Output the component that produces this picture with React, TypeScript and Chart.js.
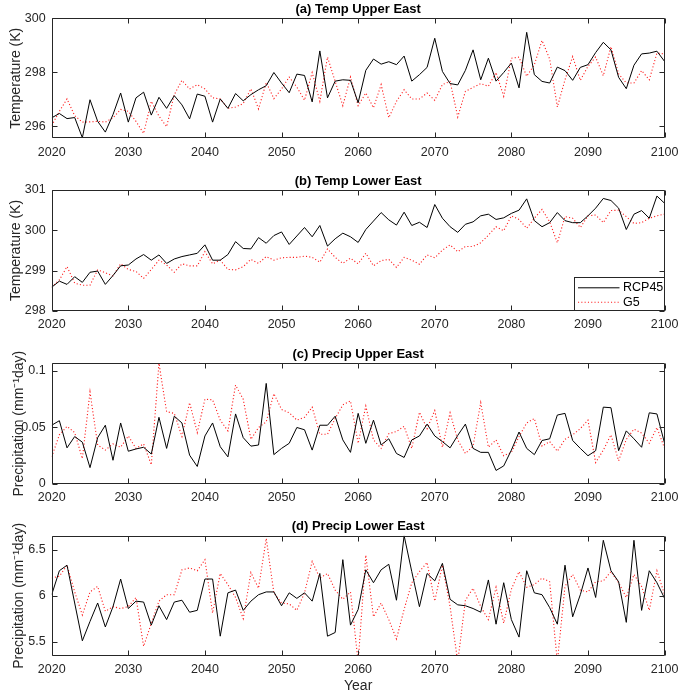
import { useEffect, useRef } from 'react';
import { Chart, registerables } from 'chart.js';

Chart.register(...registerables);

// ---------------- data ----------------
const years = [
  2020, 2021, 2022, 2023, 2024, 2025, 2026, 2027, 2028, 2029,
  2030, 2031, 2032, 2033, 2034, 2035, 2036, 2037, 2038, 2039,
  2040, 2041, 2042, 2043, 2044, 2045, 2046, 2047, 2048, 2049,
  2050, 2051, 2052, 2053, 2054, 2055, 2056, 2057, 2058, 2059,
  2060, 2061, 2062, 2063, 2064, 2065, 2066, 2067, 2068, 2069,
  2070, 2071, 2072, 2073, 2074, 2075, 2076, 2077, 2078, 2079,
  2080, 2081, 2082, 2083, 2084, 2085, 2086, 2087, 2088, 2089,
  2090, 2091, 2092, 2093, 2094, 2095, 2096, 2097, 2098, 2099, 2100,
];

const tempUpperRcp45 = [
  296.31, 296.47, 296.28, 296.32, 295.57, 296.98, 296.18, 295.78, 296.43, 297.23,
  296.15, 297.05, 297.26, 296.41, 297.07, 296.66, 297.13, 296.79, 296.27, 297.19,
  297.11, 296.15, 297.01, 296.66, 297.21, 296.94, 297.17, 297.35, 297.5, 297.99,
  297.6, 297.24, 297.93, 297.88, 296.9, 298.79, 297.05, 297.67, 297.72, 297.7,
  296.87, 298.07, 298.49, 298.3, 298.39, 298.28, 298.6, 297.67, 297.91, 298.18,
  299.26, 298.03, 297.58, 297.53, 298.07, 298.83, 297.72, 298.52, 297.67, 297.99,
  298.34, 297.42, 299.48, 297.91, 297.66, 297.6, 298.19, 298.06, 297.7, 298.18,
  298.28, 298.73, 299.11, 298.83, 297.81, 297.39, 298.26, 298.68, 298.71, 298.78, 298.4,
];
const tempUpperG5 = [
  296.02, 296.55, 297.01, 296.39, 296.15, 296.16, 296.18, 296.15, 296.31, 296.62,
  296.55, 296.18, 295.73, 296.92, 296.37, 295.98, 297.17, 297.7, 297.38, 297.54,
  297.38, 297.05, 297.01, 296.66, 296.71, 296.84, 297.38, 296.64, 297.62, 297.02,
  297.38, 297.82, 297.45, 296.96, 297.99, 296.92, 298.56, 297.66, 296.76, 297.82,
  296.76, 297.23, 296.68, 297.54, 296.31, 296.92, 297.35, 297.01, 297.01, 297.23,
  296.96, 297.54, 297.66, 296.34, 297.29, 297.44, 297.58, 297.48, 297.99, 297.11,
  298.52, 298.56, 297.85, 298.28, 299.18, 298.49, 296.71, 297.72, 298.58, 297.7,
  298.22, 298.56, 297.87, 298.95, 297.94, 297.6, 297.6, 298.06, 297.72, 298.71, 298.68,
];

const tempLowerRcp45 = [
  298.59, 298.74, 298.66, 298.85, 298.71, 298.96, 298.99, 298.66, 298.88, 299.12,
  299.14, 299.29, 299.4, 299.26, 299.39, 299.18, 299.29, 299.35, 299.39, 299.43,
  299.64, 299.26, 299.26, 299.4, 299.72, 299.55, 299.54, 299.82, 299.68, 299.87,
  299.96, 299.65, 299.86, 300.07, 299.84, 300.12, 299.61, 299.79, 299.93, 299.84,
  299.7, 300.02, 300.23, 300.44, 300.26, 300.13, 300.45, 300.12, 300.2, 300.07,
  300.64, 300.3, 300.09, 299.95, 300.15, 300.21, 300.36, 300.4, 300.27, 300.31,
  300.42, 300.5, 300.78, 300.24, 300.09, 300.19, 300.44, 300.24, 300.19, 300.19,
  300.36, 300.55, 300.79, 300.74, 300.55, 300.02, 300.4, 300.49, 300.3, 300.85, 300.67,
];
const tempLowerG5 = [
  298.59, 298.77, 299.1, 298.69, 298.64, 298.64, 299.02, 298.95, 298.87, 299.17,
  299.03, 298.98, 298.81, 299.03, 299.26, 299.14, 298.96, 299.17, 299.12, 299.12,
  299.47, 299.17, 299.26, 299.03, 299.02, 299.1, 299.28, 299.18, 299.35, 299.26,
  299.32, 299.33, 299.33, 299.36, 299.33, 299.21, 299.54, 299.33, 299.18, 299.31,
  299.17, 299.43, 299.12, 299.25, 299.28, 299.08, 299.33, 299.26, 299.16, 299.39,
  299.32, 299.51, 299.64, 299.47, 299.6, 299.6, 299.69, 299.88, 300.09, 299.99,
  300.36, 300.27, 300.05, 300.3, 300.52, 300.21, 299.69, 300.34, 300.3, 300.07,
  300.36, 300.38, 300.19, 300.49, 300.5, 300.34, 300.17, 300.19, 300.3, 300.36, 300.4,
];

const precipUpperRcp45 = [
  0.052, 0.056, 0.032, 0.042, 0.037, 0.0145, 0.041, 0.052, 0.021, 0.054,
  0.029, 0.031, 0.0325, 0.0265, 0.059, 0.0315, 0.060, 0.054, 0.0255, 0.0155,
  0.0425, 0.054, 0.033, 0.024, 0.062, 0.041, 0.0335, 0.0345, 0.089, 0.026,
  0.0315, 0.036, 0.050, 0.048, 0.030, 0.052, 0.052, 0.060, 0.039, 0.028,
  0.0625, 0.036, 0.0565, 0.0345, 0.040, 0.027, 0.0235, 0.039, 0.0425, 0.053,
  0.0425, 0.0375, 0.032, 0.043, 0.053, 0.0315, 0.028, 0.028, 0.012, 0.016,
  0.030, 0.046, 0.0315, 0.026, 0.0385, 0.040, 0.061, 0.0625, 0.0385, 0.0315,
  0.025, 0.0295, 0.068, 0.0675, 0.0295, 0.047, 0.040, 0.0325, 0.063, 0.062, 0.036,
];
const precipUpperG5 = [
  0.024, 0.0435, 0.051, 0.0455, 0.0225, 0.0815, 0.0345, 0.030, 0.0355, 0.0325,
  0.0425, 0.0315, 0.0355, 0.017, 0.1068, 0.064, 0.0625, 0.042, 0.072, 0.0455,
  0.075, 0.0745, 0.0565, 0.047, 0.0875, 0.075, 0.0395, 0.050, 0.055, 0.080,
  0.066, 0.063, 0.0565, 0.059, 0.068, 0.044, 0.044, 0.058, 0.070, 0.0735,
  0.036, 0.069, 0.039, 0.0315, 0.0445, 0.0465, 0.051, 0.0315, 0.0635, 0.049,
  0.065, 0.0325, 0.063, 0.039, 0.027, 0.0335, 0.072, 0.0325, 0.039, 0.025,
  0.028, 0.042, 0.054, 0.058, 0.0335, 0.0375, 0.029, 0.0395, 0.0435, 0.049,
  0.0565, 0.019, 0.030, 0.0435, 0.0205, 0.0395, 0.0485, 0.045, 0.036, 0.050, 0.0315,
];

const precipLowerRcp45 = [
  6.01, 6.27, 6.33, 5.92, 5.51, 5.72, 5.92, 5.66, 5.88, 6.18,
  5.86, 5.94, 5.93, 5.68, 5.89, 5.74, 5.93, 5.95, 5.82, 5.84,
  6.18, 6.18, 5.56, 6.03, 6.06, 5.84, 5.94, 6.01, 6.04, 6.04,
  5.89, 6.03, 5.97, 6.03, 5.94, 6.24, 5.56, 5.6, 6.39, 5.68,
  5.85, 6.28, 6.14, 6.28, 6.34, 5.95, 6.65, 6.26, 5.88, 6.24,
  6.16, 6.35, 5.96, 5.9, 5.89, 5.86, 5.82, 6.17, 5.69, 6.14,
  5.74, 5.55, 6.27, 6.03, 6.01, 5.87, 5.69, 6.33, 5.77, 6.01,
  6.3, 5.98, 6.6, 6.27, 6.15, 5.71, 6.6, 5.84, 6.27, 6.14, 5.97,
];
const precipLowerG5 = [
  6.19, 6.21, 6.33, 6.04, 5.79, 6.04, 6.1, 5.83, 5.88, 5.86,
  5.88, 5.98, 5.45, 5.7, 5.94, 6.01, 6.01, 6.28, 6.3, 6.27,
  6.39, 5.81, 6.24, 6.12, 5.98, 5.75, 6.25, 6.08, 6.62, 6.03,
  5.92, 5.91, 5.84, 6.03, 6.37, 6.19, 6.24, 6.06, 5.96, 6.04,
  5.28, 6.44, 5.77, 5.92, 5.74, 5.53, 5.85, 6.14, 6.26, 6.36,
  5.94, 6.33, 5.88, 5.28, 5.95, 6.08, 5.88, 5.74, 6.09, 5.7,
  6.07, 6.26, 6.09, 6.12, 6.19, 6.15, 5.28, 6.1, 6.23, 6.06,
  6.04, 6.15, 6.16, 6.26, 6.14, 5.98, 6.23, 6.1, 5.84, 6.27, 6.01,
];

const xTickValues = [2020, 2030, 2040, 2050, 2060, 2070, 2080, 2090, 2100];
const tempUpperTicks = [296, 298, 300];
const tempLowerTicks = [298, 299, 300, 301];
const precipUpperTicks = [0, 0.05, 0.1];
const precipLowerTicks = [5.5, 6, 6.5];

const seriesLabels = ['RCP45', 'G5'];
const panelTitles = [
  '(a) Temp Upper East',
  '(b) Temp Lower East',
  '(c) Precip Upper East',
  '(d) Precip Lower East',
];
const tempAxisTitle = 'Temperature (K)';
const precipAxisTitle = 'Precipitation (mm\u207B\u00B9day)';
const xAxisTitle = 'Year';

// ---------------- styling ----------------
const FONT = '"Liberation Sans", Arial, Helvetica, sans-serif';
const AXIS_COLOR = '#262626';

const framePlugin = {
  id: 'matlabFrame',
  afterDatasetsDraw(chart: any, _args: any, opts: any) {
    const { ctx, chartArea: a, scales } = chart;
    ctx.save();
    ctx.strokeStyle = AXIS_COLOR;
    ctx.lineWidth = 1;
    const L = Math.round(a.left) + 0.5;
    const R = Math.round(a.right) - 0.5;
    const T = Math.round(a.top) + 0.5;
    const B = Math.round(a.bottom) - 0.5;
    ctx.beginPath();
    ctx.rect(L, T, R - L, B - T);
    ctx.stroke();
    const tl = 5;
    ctx.beginPath();
    for (const t of scales.x.ticks) {
      const px = Math.round(scales.x.getPixelForValue(t.value)) + 0.5;
      ctx.moveTo(px, B);
      ctx.lineTo(px, B - tl);
      ctx.moveTo(px, T);
      ctx.lineTo(px, T + tl);
    }
    for (const t of scales.y.ticks) {
      const py = Math.round(scales.y.getPixelForValue(t.value)) + 0.5;
      ctx.moveTo(L, py);
      ctx.lineTo(L + tl, py);
      ctx.moveTo(R, py);
      ctx.lineTo(R - tl, py);
    }
    ctx.stroke();

    if (opts && opts.legend) {
      const w = 90;
      const h = 33;
      const bx = R - w;
      const by = B - h;
      ctx.fillStyle = '#ffffff';
      ctx.fillRect(bx, by, w, h);
      ctx.strokeStyle = AXIS_COLOR;
      ctx.lineWidth = 1;
      ctx.strokeRect(bx, by, w, h);
      ctx.font = `12.5px ${FONT}`;
      ctx.textBaseline = 'middle';
      ctx.textAlign = 'left';
      chart.data.datasets.forEach((ds: any, i: number) => {
        const y = by + 10.3 + i * 14.4;
        ctx.save();
        ctx.strokeStyle = ds.borderColor;
        ctx.lineWidth = ds.borderWidth;
        ctx.setLineDash(ds.borderDash || []);
        ctx.beginPath();
        ctx.moveTo(bx + 3.5, y);
        ctx.lineTo(bx + 45, y);
        ctx.stroke();
        ctx.restore();
        ctx.fillStyle = '#000000';
        ctx.fillText(ds.label, bx + 48.5, y);
      });
    }
    ctx.restore();
  },
};

type PanelProps = {
  top: number;
  height: number;
  title: string;
  titlePadTop: number;
  titlePadBottom: number;
  xAxisHeight: number;
  rcp: number[];
  g5: number[];
  yMin: number;
  yMax: number;
  yTicks: number[];
  yTitle: string;
  yTitlePad: number;
  showXTitle: boolean;
  showLegend: boolean;
};

function Panel(p: PanelProps) {
  const ref = useRef<HTMLCanvasElement>(null);
  useEffect(() => {
    const toPts = (vals: number[]) => years.map((yr, i) => ({ x: yr, y: vals[i] }));
    const chart = new Chart(ref.current as HTMLCanvasElement, {
      type: 'line',
      data: {
        datasets: [
          {
            label: seriesLabels[0],
            data: toPts(p.rcp),
            borderColor: '#000000',
            borderWidth: 1,
            pointRadius: 0,
            tension: 0,
            clip: 0,
          },
          {
            label: seriesLabels[1],
            data: toPts(p.g5),
            borderColor: '#ff1a1a',
            borderWidth: 1.1,
            borderDash: [1.1, 2.2],
            pointRadius: 0,
            tension: 0,
            clip: 0,
          },
        ],
      } as any,
      plugins: [framePlugin],
      options: {
        animation: false,
        responsive: false,
        maintainAspectRatio: false,
        events: [],
        layout: { padding: { left: 0, right: 13.3, top: 0, bottom: 0 } },
        plugins: {
          legend: { display: false },
          tooltip: { enabled: false },
          title: {
            display: true,
            text: p.title,
            fullSize: false,
            color: '#000000',
            font: { family: FONT, size: 13, weight: 'bold', lineHeight: 1.2 },
            padding: { top: p.titlePadTop, bottom: p.titlePadBottom },
          },
          matlabFrame: { legend: p.showLegend },
        } as any,
        scales: {
          x: {
            type: 'linear',
            min: 2020,
            max: 2100,
            grid: { display: false, drawTicks: false },
            border: { display: false },
            afterBuildTicks: (s: any) => {
              s.ticks = xTickValues.map((v) => ({ value: v }));
            },
            afterFit: (s: any) => {
              s.height = p.xAxisHeight;
            },
            ticks: {
              autoSkip: false,
              maxRotation: 0,
              padding: 6.5,
              color: AXIS_COLOR,
              font: { family: FONT, size: 12.5 },
              callback: (v: any) => String(v),
            },
            title: {
              display: p.showXTitle,
              text: xAxisTitle,
              color: AXIS_COLOR,
              font: { family: FONT, size: 14 },
              padding: { top: 0, bottom: 0 },
            },
          },
          y: {
            type: 'linear',
            min: p.yMin,
            max: p.yMax,
            grid: { display: false, drawTicks: false },
            border: { display: false },
            afterBuildTicks: (s: any) => {
              s.ticks = p.yTicks.map((v) => ({ value: v }));
            },
            afterFit: (s: any) => {
              s.width = 51.7;
            },
            ticks: {
              autoSkip: false,
              padding: 6,
              color: AXIS_COLOR,
              font: { family: FONT, size: 12.5 },
              callback: (v: any) => String(v),
            },
            title: {
              display: true,
              text: p.yTitle,
              color: AXIS_COLOR,
              font: { family: FONT, size: 14 },
              padding: { top: p.yTitlePad, bottom: 0 },
            },
          },
        },
      } as any,
    });
    return () => chart.destroy();
  }, []);
  return (
    <canvas
      ref={ref}
      width={685}
      height={p.height}
      style={{ position: 'absolute', left: 0, top: p.top, width: 685, height: p.height }}
    />
  );
}

export default function App() {
  return (
    <div
      style={{
        position: 'absolute',
        left: 0,
        top: 0,
        width: 685,
        height: 695,
        background: '#ffffff',
        overflow: 'hidden',
      }}
    >
      <Panel
        top={0}
        height={170}
        title={panelTitles[0]}
        titlePadTop={1.2}
        titlePadBottom={1.5}
        xAxisHeight={31.7}
        rcp={tempUpperRcp45}
        g5={tempUpperG5}
        yMin={295.55}
        yMax={300}
        yTicks={tempUpperTicks}
        yTitle={tempAxisTitle}
        yTitlePad={8}
        showXTitle={false}
        showLegend={false}
      />
      <Panel
        top={170}
        height={170}
        title={panelTitles[1]}
        titlePadTop={4.1}
        titlePadBottom={0.3}
        xAxisHeight={29}
        rcp={tempLowerRcp45}
        g5={tempLowerG5}
        yMin={298}
        yMax={301}
        yTicks={tempLowerTicks}
        yTitle={tempAxisTitle}
        yTitlePad={8}
        showXTitle={false}
        showLegend={true}
      />
      <Panel
        top={340}
        height={170}
        title={panelTitles[2]}
        titlePadTop={6.2}
        titlePadBottom={1.5}
        xAxisHeight={26}
        rcp={precipUpperRcp45}
        g5={precipUpperG5}
        yMin={0}
        yMax={0.1068}
        yTicks={precipUpperTicks}
        yTitle={precipAxisTitle}
        yTitlePad={11}
        showXTitle={false}
        showLegend={false}
      />
      <Panel
        top={510}
        height={185}
        title={panelTitles[3]}
        titlePadTop={8.2}
        titlePadBottom={1.9}
        xAxisHeight={39}
        rcp={precipLowerRcp45}
        g5={precipLowerG5}
        yMin={5.345}
        yMax={6.65}
        yTicks={precipLowerTicks}
        yTitle={precipAxisTitle}
        yTitlePad={11}
        showXTitle={true}
        showLegend={false}
      />
    </div>
  );
}
